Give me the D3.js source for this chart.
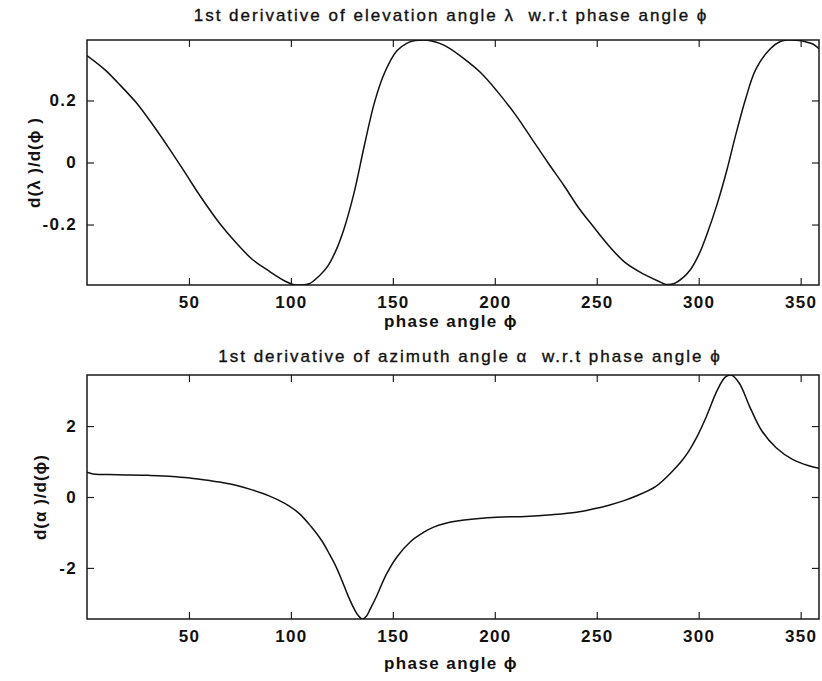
<!DOCTYPE html>
<html>
<head>
<meta charset="utf-8">
<title>Derivatives of elevation and azimuth</title>
<script src="https://d3js.org/d3.v7.min.js"></script>
<style>
  body { margin: 0; background: #fff; }
  text { font-family: "Liberation Sans", Arial, Helvetica, sans-serif; fill: #111; white-space: pre; }
  .tick line { stroke: #222; stroke-width: 1.2; }
  .tick text { font-size: 17px; font-weight: bold; letter-spacing: 1.3px; }
  .domain { display: none; }
</style>
</head>
<body>
<svg width="822" height="681"></svg>
<script>
// phase angle (deg) and 1st derivative of elevation angle lambda
var phiTop = [0, 9, 15, 24, 32, 40, 48, 56, 65, 73, 81, 89, 97, 101, 105, 109, 114, 118, 122, 126,
  131, 136, 141, 146, 152, 157, 161, 165, 169, 173, 177, 185, 193, 201, 210, 218, 226, 234, 241, 248,
  256, 264, 273, 281, 284, 288, 292, 296, 300, 304, 309, 314, 318, 323, 328, 335, 340, 344, 348, 352, 356, 359];
var dLambda = [0.345, 0.298, 0.258, 0.194, 0.124, 0.048, -0.032, -0.113, -0.196, -0.258, -0.312, -0.349, -0.382, -0.393, -0.395, -0.391, -0.365, -0.335, -0.285, -0.215,
  -0.097, 0.054, 0.194, 0.290, 0.360, 0.385, 0.393, 0.395, 0.392, 0.384, 0.371, 0.334, 0.290, 0.231, 0.155, 0.078, 0.0, -0.075, -0.145, -0.204,
  -0.269, -0.323, -0.360, -0.385, -0.393, -0.390, -0.373, -0.345, -0.298, -0.232, -0.135, -0.020, 0.085, 0.205, 0.300, 0.366, 0.390, 0.395, 0.394, 0.390, 0.382, 0.367];

// phase angle (deg) and 1st derivative of azimuth angle alpha
var phiBottom = [0, 3, 15, 30, 42, 51, 58, 65, 73, 81, 89, 97, 104, 110, 115, 119, 122, 125, 128, 131,
  133, 135, 137, 139, 142, 144, 147, 152, 159, 165, 170, 176, 185, 201, 215, 228, 240, 248, 256, 263,
  269, 279, 287, 291, 295, 299, 304, 309, 313, 316, 320, 325, 331, 338, 346, 354, 359];
var dAlpha = [0.70, 0.65, 0.63, 0.61, 0.58, 0.53, 0.48, 0.42, 0.33, 0.20, 0.04, -0.18, -0.46, -0.84, -1.22, -1.62, -1.95, -2.35, -2.78, -3.15,
  -3.34, -3.44, -3.36, -3.15, -2.80, -2.53, -2.16, -1.69, -1.24, -1.00, -0.85, -0.74, -0.65, -0.57, -0.55, -0.50, -0.43, -0.34, -0.23, -0.11,
  0.02, 0.30, 0.72, 0.97, 1.28, 1.68, 2.30, 3.00, 3.38, 3.44, 3.20, 2.55, 1.86, 1.39, 1.06, 0.88, 0.81];

var xTicks = [50, 100, 150, 200, 250, 300, 350];
var yTicksTop = [-0.2, 0, 0.2];
var yTicksBottom = [-2, 0, 2];

var svg = d3.select("svg");
svg.append("rect").attr("width", 822).attr("height", 681).attr("fill", "#fff");

var left = 87, right = 819;
var x = d3.scaleLinear().domain([0, 359]).range([left, right]);

// plain hyphen for negatives, like the original plot
function hyphen(f) { return function(d) { return f(d).replace("\u2212", "-"); }; }

function panel(id, top, bottom, xs, ys, yDomain, yTicks, fmt, title, titleX, titleY, ylab, ylabX, xlabY) {
  var y = d3.scaleLinear().domain(yDomain).range([bottom, top]);
  var g = svg.append("g");

  g.append("clipPath").attr("id", id)
    .append("rect").attr("x", left).attr("y", top).attr("width", right - left).attr("height", bottom - top);

  // ticks on all four sides, pointing inward
  g.append("g").attr("transform", "translate(0," + bottom + ")")
    .call(d3.axisBottom(x).tickValues(xTicks).tickSize(-7).tickPadding(11));
  g.append("g").attr("transform", "translate(0," + top + ")")
    .call(d3.axisTop(x).tickValues(xTicks).tickSize(-7).tickFormat(""));
  g.append("g").attr("transform", "translate(" + left + ",0)")
    .call(d3.axisLeft(y).tickValues(yTicks).tickSize(-7).tickPadding(10).tickFormat(fmt));
  g.append("g").attr("transform", "translate(" + right + ",0)")
    .call(d3.axisRight(y).tickValues(yTicks).tickSize(-7).tickFormat(""));

  g.append("rect").attr("x", left).attr("y", top).attr("width", right - left).attr("height", bottom - top)
    .attr("fill", "none").attr("stroke", "#1a1a1a").attr("stroke-width", 1.5);

  var line = d3.line().x(function(d, i) { return x(xs[i]); }).y(function(d) { return y(d); })
    .curve(d3.curveCatmullRom.alpha(0.5));
  g.append("path").datum(ys).attr("clip-path", "url(#" + id + ")")
    .attr("d", line).attr("fill", "none").attr("stroke", "#111").attr("stroke-width", 1.5);

  g.append("text").attr("x", titleX).attr("y", titleY).attr("text-anchor", "middle")
    .style("font-size", "17px").style("letter-spacing", "2px")
    .style("stroke", "#111").style("stroke-width", "0.35px").text(title);
  g.append("text").attr("x", 451).attr("y", xlabY).attr("text-anchor", "middle")
    .style("font-size", "17px").style("font-weight", "bold").style("letter-spacing", "1.4px").text("phase angle ϕ");
  g.append("text").attr("transform", "translate(" + ylabX + "," + ((top + bottom) / 2) + ") rotate(-90)")
    .attr("text-anchor", "middle").attr("dy", "0.35em")
    .style("font-size", "17px").style("font-weight", "bold").style("letter-spacing", "1px").text(ylab);
}

panel("clipTop", 40, 285, phiTop, dLambda, [-0.395, 0.395], yTicksTop,
  hyphen(function(d) { return d === 0 ? "0" : d3.format(".1f")(d); }),
  "1st derivative of elevation angle λ  w.r.t phase angle ϕ", 451, 21, "d(λ )/d(ϕ )", 34, 327);
panel("clipBottom", 375, 619, phiBottom, dAlpha, [-3.44, 3.44], yTicksBottom, hyphen(d3.format("d")),
  "1st derivative of azimuth angle α  w.r.t phase angle ϕ", 470, 362, "d(α )/d(ϕ)", 40, 669);
</script>
</body>
</html>
